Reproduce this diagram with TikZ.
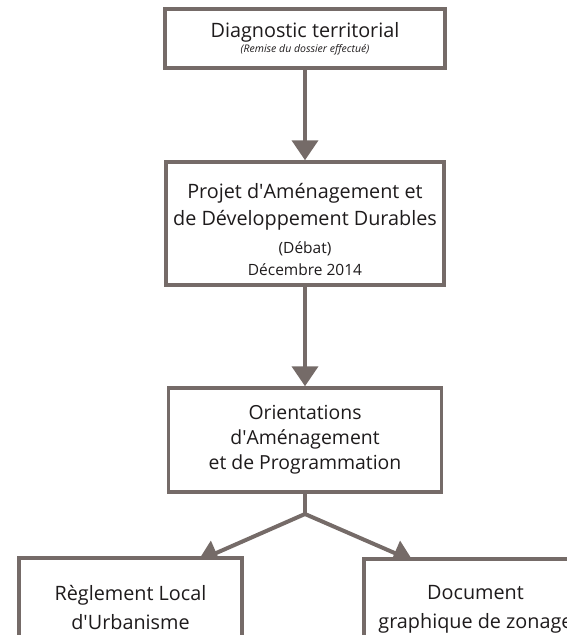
\documentclass[tikz,border=0pt]{standalone}
\usepackage{fontspec}
\setmainfont{Open Sans}
\usetikzlibrary{arrows.meta,backgrounds,positioning}
\definecolor{taupe}{RGB}{117,107,104}
\definecolor{ink}{RGB}{30,27,28}
\newcommand{\ap}{\textquotesingle}

\begin{document}
\begin{tikzpicture}[x=1pt,y=-1pt,
    >={Triangle[length=20pt,width=26pt]},
    box/.style={draw=taupe,line width=3.5pt,fill=white,align=center,
      text=ink,inner sep=0pt},
    link/.style={draw=taupe,line width=4pt}
    ]
    \useasboundingbox (0,0) rectangle (567,635);
    \clip (0,0) rectangle (567,635);
    \node[box,minimum width=280pt,minimum height=59pt,
      font=\fontsize{19.8}{15}\selectfont] (diag) at (305,38.5)
      {Diagnostic territorial\\
        {\fontsize{10.5}{11}\selectfont\itshape (Remise du dossier effectué)}};
    \node[box,minimum width=278pt,minimum height=123pt,
      font=\fontsize{19.8}{27}\selectfont] (padd) at (305,223.5)
      {\rule{0pt}{28pt}Projet d\ap Aménagement et\\ de Développement Durables\\[1pt]
        {\fontsize{15.5}{16}\selectfont (Débat)}\\[-5pt]
        {\fontsize{15.5}{16}\selectfont Décembre 2014}};
    \node[box,minimum width=273pt,minimum height=104pt,
      font=\fontsize{19.4}{25}\selectfont] (oap) at (305,440)
      {Orientations\\ d\ap Aménagement\\ et de Programmation};
    \node[box,minimum width=223pt,minimum height=100pt,
      font=\fontsize{19.8}{29}\selectfont] (rlu) at (130.5,608)
      {Règlement Local\\ d\ap Urbanisme};
    \node[box,minimum width=223pt,minimum height=100pt,
      font=\fontsize{19.8}{29}\selectfont] (dgz) at (475.5,609)
      {Document\\ graphique de zonage};
    \coordinate (fork) at (305,514);
    \coordinate (tipl) at (198,561);
    \coordinate (tipr) at (413,561);
    % connectors go behind the white boxes
    \begin{scope}[on background layer]
      \draw[link,->] (diag) -- (padd);
      \draw[link,->] (padd) -- (oap);
      \draw[link] (oap) -- (fork);
      \draw[link,<->] (tipl) -- (fork) -- (tipr);
    \end{scope}
\end{tikzpicture}
\end{document}
